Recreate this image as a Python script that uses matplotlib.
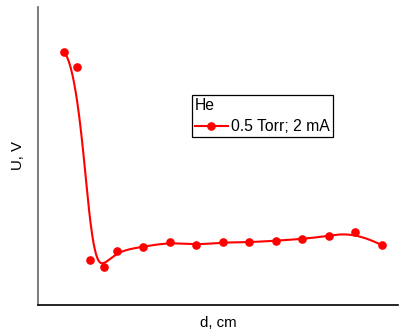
import numpy as np
import matplotlib
matplotlib.use("Agg")
import matplotlib.pyplot as plt

plt.rcParams['font.family'] = ['Liberation Sans', 'DejaVu Sans']

# data (arbitrary units)
d_cm = [0.1, 0.2, 0.3, 0.4, 0.5, 0.7, 0.9, 1.1, 1.3, 1.5, 1.7, 1.9, 2.1, 2.3, 2.5]
U_v = [252.5, 237.8, 44.5, 37.8, 53.5, 57.8, 62.2, 59.5, 62.2, 62.2, 63.8, 65.5, 68.5, 72.5, 59.5]
legend_title = "He"
series_label = "0.5 Torr; 2 mA"


def clamped_bspline(px, py, num=1000, degree=3):
    px = np.asarray(px, float)
    py = np.asarray(py, float)
    n = len(px)
    inner = np.arange(1, n - degree)
    knots = np.concatenate([np.zeros(degree + 1), inner, np.full(degree + 1, n - degree)]).astype(float)
    t = np.linspace(0, n - degree, num)
    t[-1] -= 1e-9
    B = np.array([(t >= knots[i]) & (t < knots[i + 1]) for i in range(len(knots) - 1)], float)
    for k in range(1, degree + 1):
        Bn = np.zeros((len(knots) - 1 - k, num))
        for i in range(len(knots) - 1 - k):
            d1 = knots[i + k] - knots[i]
            d2 = knots[i + k + 1] - knots[i + 1]
            a = (t - knots[i]) / d1 * B[i] if d1 > 0 else 0.0
            b = (knots[i + k + 1] - t) / d2 * B[i + 1] if d2 > 0 else 0.0
            Bn[i] = a + b
        B = Bn
    return B.T @ px, B.T @ py


fig = plt.figure(figsize=(3.99, 3.34), dpi=100)
ax = fig.add_axes([38 / 399, (334 - 304.5) / 334, 360 / 399, (304.5 - 7) / 334])

sx, sy = clamped_bspline(d_cm, U_v)
ax.plot(sx, sy, color='#ff0000', lw=1.5, zorder=2)
ax.plot(d_cm, U_v, 'o', color='#ff0000', ms=5.2, zorder=3)
handle, = ax.plot([], [], '-o', color='#ff0000', lw=1.5, ms=5.2)

ax.set_xlim(-0.0965, 2.6246)
ax.set_ylim(0, 297.5)
ax.set_xticks([])
ax.set_yticks([])
for s in ['top', 'right']:
    ax.spines[s].set_visible(False)
ax.spines['left'].set_color('#666666')
ax.spines['left'].set_linewidth(1.2)
ax.spines['bottom'].set_color('black')
ax.spines['bottom'].set_linewidth(1.2)

ax.set_xlabel("d, cm", fontsize=10.8, labelpad=8)
ax.set_ylabel("U, V", fontsize=10.8, labelpad=9)

leg = ax.legend([handle], [series_label], title=legend_title, loc='upper left',
                bbox_to_anchor=(192 / 399, 1 - 95 / 334), bbox_transform=fig.transFigure,
                borderaxespad=0, borderpad=0.18, handlelength=2.1, handletextpad=0.22,
                labelspacing=0.4, fancybox=False, edgecolor='black', framealpha=1,
                fontsize=11.3, title_fontsize=11.3, alignment='left')
leg.get_frame().set_linewidth(0.9)

fig.savefig("out.png", dpi=100)
